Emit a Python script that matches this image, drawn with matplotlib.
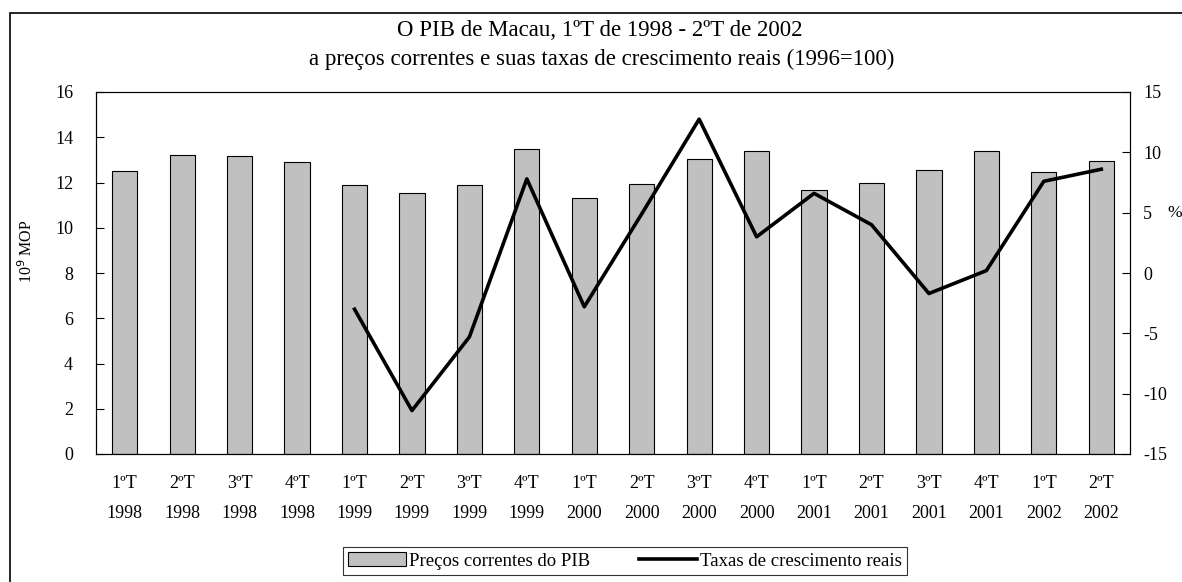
import matplotlib.pyplot as plt
from matplotlib.patches import Rectangle

plt.rcParams['font.family'] = ['Liberation Serif', 'DejaVu Serif']
plt.rcParams['axes.unicode_minus'] = False

# Dados
trimestres = ['1ºT', '2ºT', '3ºT', '4ºT'] * 4 + ['1ºT', '2ºT']
anos = ['1998'] * 4 + ['1999'] * 4 + ['2000'] * 4 + ['2001'] * 4 + ['2002'] * 2
pib = [12.5, 13.2, 13.15, 12.9, 11.9, 11.55, 11.9, 13.5, 11.3, 11.95,
       13.05, 13.4, 11.65, 12.0, 12.55, 13.4, 12.45, 12.95]
taxas = [None, None, None, None, -3.0, -11.4, -5.3, 7.8, -2.8, 4.9,
         12.75, 3.0, 6.6, 4.0, -1.7, 0.2, 7.6, 8.6]

fig = plt.figure(figsize=(11.82, 5.82), dpi=100)
ax = fig.add_axes([96 / 1182, 128 / 582, 1034 / 1182, 362 / 582])
ax2 = ax.twinx()

x = list(range(len(pib)))
ax.bar(x, pib, width=0.44, color='#c0c0c0', edgecolor='black', linewidth=0.8,
       label='Preços correntes do PIB')

xs = [i for i, v in zip(x, taxas) if v is not None]
ys = [v for v in taxas if v is not None]
ax2.plot(xs, ys, color='black', linewidth=2.6, label='Taxas de crescimento reais')

ax.set_xlim(-0.5, len(pib) - 0.5)
ax.set_ylim(0, 16)
ax.set_yticks(range(0, 17, 2))
ax2.set_ylim(-15, 15)
ax2.set_yticks(range(-15, 16, 5))

ax.set_xticks(x)
ax.set_xticklabels([t + '\n' + a for t, a in zip(trimestres, anos)], linespacing=2.0)
ax.tick_params(axis='x', length=0, pad=15, labelsize=13)
ax.tick_params(axis='y', direction='in', length=6, pad=16.5, labelsize=13)
ax2.tick_params(axis='y', direction='in', length=6, pad=9.5, labelsize=13)

fig.text(27 / 1182, 1 - 251 / 582, '10$^9$ MOP', rotation=90, ha='center', va='center',
         fontsize=11.5)
fig.text(1167 / 1182, 1 - 213 / 582, '%', ha='left', va='center', fontsize=12.5)

fig.text(600 / 1182, 1 - 31 / 582, 'O PIB de Macau, 1ºT de 1998 - 2ºT de 2002',
         ha='center', va='center', fontsize=16.5)
fig.text(602 / 1182, 1 - 59 / 582, 'a preços correntes e suas taxas de crescimento reais (1996=100)',
         ha='center', va='center', fontsize=16.5)

h1, l1 = ax.get_legend_handles_labels()
h2, l2 = ax2.get_legend_handles_labels()
leg = fig.legend(h1 + h2, l1 + l2, loc='center', bbox_to_anchor=(625 / 1182, 1 - 561 / 582),
                 ncol=2, frameon=True, fancybox=False, edgecolor='black', fontsize=13.5,
                 handlelength=3.1, handletextpad=0.15, columnspacing=2.6, borderpad=0.3)
leg.get_frame().set_linewidth(0.8)

fig.patches.append(Rectangle((10 / 1182, -0.1), 1.2, 0.1 + (582 - 13) / 582,
                             transform=fig.transFigure, fill=False, edgecolor='black',
                             linewidth=1.2))

fig.savefig('out.png', dpi=100)
